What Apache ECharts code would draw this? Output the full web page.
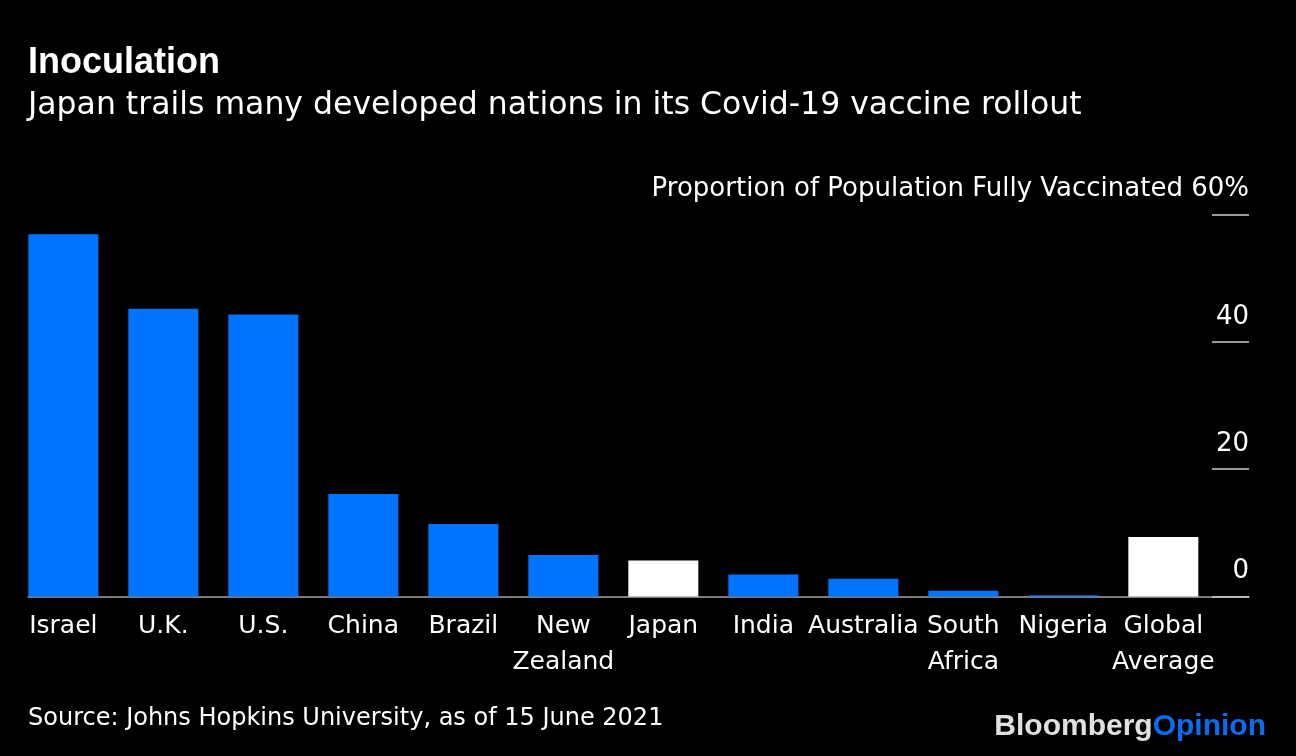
<!DOCTYPE html>
<html>
<head>
<meta charset="utf-8">
<script src="https://cdn.jsdelivr.net/npm/echarts@6/dist/echarts.min.js"></script>
<style>
html,body{margin:0;padding:0;background:#000;}
#chart{width:1296px;height:756px;}
</style>
</head>
<body>
<div id="chart"></div>
<script>
const categories = ['Israel','U.K.','U.S.','China','Brazil','New\nZealand','Japan','India','Australia','South\nAfrica','Nigeria','Global\nAverage'];
const values = [56.9, 45.2, 44.3, 16.1, 11.4, 6.5, 5.65, 3.45, 2.8, 0.9, 0.2, 9.35];
const highlighted = ['Japan', 'Global\nAverage'];
const yTicks = [0, 20, 40, 60];
const yAxisTitle = 'Proportion of Population Fully Vaccinated';
const titleText = 'Inoculation';
const subtitleText = 'Japan trails many developed nations in its Covid-19 vaccine rollout';
const sourceText = 'Source: Johns Hopkins University, as of 15 June 2021';

const FONT = '"DejaVu Sans", sans-serif';
const BOLDFONT = '"Liberation Sans", Arial, sans-serif';
const BLUE = '#0073ff';

const chart = echarts.init(document.getElementById('chart'), null, {renderer: 'canvas'});
const gridTop = 214.5, gridHeight = 382;
chart.setOption({
  backgroundColor: '#000000',
  animation: false,
  textStyle: {fontFamily: FONT},
  title: [
    {text: titleText, left: 28, top: 45, padding: 0, textStyle: {color: '#ffffff', fontSize: 36, fontWeight: 'bold', fontFamily: BOLDFONT}},
    {text: subtitleText, left: 28, top: 90, padding: 0, textStyle: {color: '#ffffff', fontSize: 31.5, fontWeight: 'normal', fontFamily: FONT}},
    {text: sourceText, left: 28, top: 707, padding: 0, textStyle: {color: '#ffffff', fontSize: 24, fontWeight: 'normal', fontFamily: FONT}}
  ],
  graphic: [{
    type: 'text', right: 30, top: 712,
    style: {
      text: '{a|Bloomberg}{b|Opinion}',
      rich: {
        a: {fill: '#e0e0e0', fontSize: 30, fontWeight: 'bold', fontFamily: BOLDFONT},
        b: {fill: '#0a6cf0', fontSize: 30, fontWeight: 'bold', fontFamily: BOLDFONT}
      }
    }
  }],
  grid: [
    {left: 13.33, width: 1200, top: gridTop, height: gridHeight},
    {left: 28, width: 1221, top: gridTop, height: gridHeight}
  ],
  xAxis: [
    {
      type: 'category', gridIndex: 0, data: categories,
      axisLine: {show: false}, axisTick: {show: false},
      axisLabel: {color: '#ffffff', fontSize: 25, lineHeight: 36, margin: 12, interval: 0, fontFamily: FONT}
    },
    {
      type: 'value', gridIndex: 1, min: 0, max: 1, show: true,
      axisLine: {show: true, onZero: false, lineStyle: {color: '#a6a6a6', width: 1.5}},
      axisTick: {show: false}, axisLabel: {show: false}, splitLine: {show: false}
    }
  ],
  yAxis: [
    {
      type: 'value', gridIndex: 0, min: 0, max: 60, interval: 20, show: false
    },
    {
      type: 'value', gridIndex: 1, min: 0, max: 60, interval: 20, position: 'right',
      axisLine: {show: false, onZero: false},
      axisTick: {show: true, inside: true, length: 37, lineStyle: {color: '#cccccc', width: 1.5}},
      splitLine: {show: false},
      axisLabel: {
        inside: true, margin: 0, color: '#ffffff', fontSize: 26, fontFamily: FONT,
        verticalAlign: 'bottom', lineHeight: 26, padding: [0, 0, 12, 0],
        formatter: function (v) { return v === 60 ? yAxisTitle + ' 60%' : String(v); }
      }
    }
  ],
  series: [{
    type: 'bar', xAxisIndex: 0, yAxisIndex: 0, data: values, barWidth: 70,
    itemStyle: {
      color: function (p) { return highlighted.indexOf(categories[p.dataIndex]) >= 0 ? '#ffffff' : BLUE; }
    }
  }]
});
</script>
</body>
</html>
